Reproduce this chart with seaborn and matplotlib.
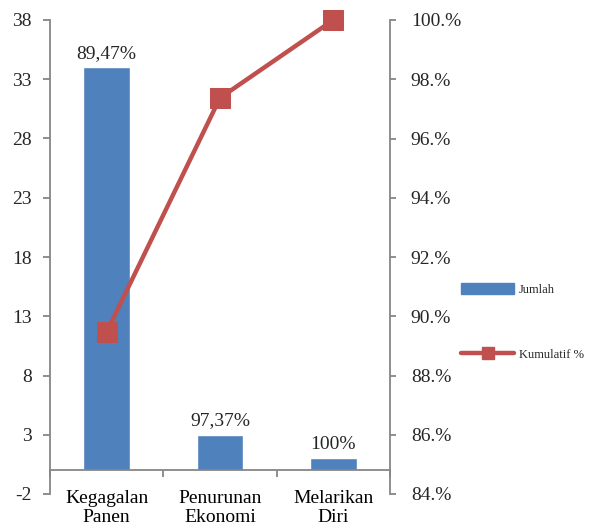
import matplotlib
matplotlib.use("Agg")
import matplotlib.pyplot as plt
import seaborn as sns
import pandas as pd
from matplotlib.lines import Line2D
from matplotlib.patches import Patch

categories = ["Kegagalan\nPanen", "Penurunan\nEkonomi", "Melarikan\nDiri"]
jumlah = [34, 3, 1]
kumulatif = [89.47, 97.37, 100.0]
bar_labels = ["89,47%", "97,37%", "100%"]
left_ticks = [-2, 3, 8, 13, 18, 23, 28, 33, 38]
right_ticks = [84, 86, 88, 90, 92, 94, 96, 98, 100]

sns.set_theme(style="white")
plt.rcParams['font.family'] = ['Liberation Serif', 'DejaVu Serif']

BAR = "#4F81BD"
LINE = "#C0504D"
GRAY = "#868686"

df = pd.DataFrame({"cat": categories, "jumlah": jumlah, "kum": kumulatif})

fig = plt.figure(figsize=(5.89, 5.29), dpi=100)
ax = fig.add_axes([50/589, 35/529, 340/589, 474/529])
sns.barplot(data=df, x="cat", y="jumlah", color=BAR, width=0.41, saturation=1, ax=ax)
ax.set_ylim(-2, 38)
ax.set_xlim(-0.5, 2.5)
ax.set_yticks(left_ticks)
ax.set_yticklabels([str(t) for t in left_ticks], fontsize=14)
ax.set_xlabel("")
ax.set_ylabel("")
for s in ["top", "right"]:
    ax.spines[s].set_visible(False)
ax.spines["left"].set_color(GRAY)
ax.spines["left"].set_linewidth(1.3)
ax.spines["bottom"].set_position(("data", 0))
ax.spines["bottom"].set_color(GRAY)
ax.spines["bottom"].set_linewidth(1.3)
ax.set_xticks([0, 1, 2])
ax.set_xticklabels(categories, fontsize=14, linespacing=1.2)
ax.set_xticks([-0.5, 0.5, 1.5, 2.5], minor=True)
ax.tick_params(axis="x", which="major", length=0, pad=14, colors="black")
ax.tick_params(axis="x", which="minor", length=5, direction="out", color=GRAY, width=1.3, bottom=True)
ax.tick_params(axis="y", length=5, direction="out", color=GRAY, width=1.3, left=True, pad=8)
for i, (v, lab) in enumerate(zip(jumlah, bar_labels)):
    ax.annotate(lab, (i, v), xytext=(0, 4), textcoords="offset points",
                ha="center", va="bottom", fontsize=14)

ax2 = ax.twinx()
ax2.set_position([50/589, 35/529, 340/589, 474/529])
xs = [0, 1, 2]
sns.lineplot(x=xs, y=kumulatif, ax=ax2, color=LINE, linewidth=3.2, marker="s",
             markersize=14, markeredgecolor=LINE, legend=False)
for ln in ax2.lines:
    ln.set_clip_on(False)
ax2.set_ylim(84, 100)
ax2.set_xlim(-0.5, 2.5)
ax2.set_yticks(right_ticks)
ax2.set_yticklabels([f"{t}.%" for t in right_ticks], fontsize=14)
for s in ["top", "left", "bottom"]:
    ax2.spines[s].set_visible(False)
ax2.spines["right"].set_color(GRAY)
ax2.spines["right"].set_linewidth(1.3)
ax2.tick_params(axis="y", length=4, direction="out", color=GRAY, width=1.3, right=True, pad=11)
ax2.set_ylabel("")

handles = [Patch(facecolor=BAR, edgecolor=BAR),
           Line2D([0], [0], color=LINE, linewidth=3.2, marker="s", markersize=9)]
fig.legend(handles, ["Jumlah", "Kumulatif %"], loc="center left",
           bbox_to_anchor=(450/589, 1 - 322/529), frameon=False, fontsize=9,
           handlelength=4.2, handleheight=0.9, labelspacing=4.2, handletextpad=0.4)

fig.savefig("out.png", dpi=100)
